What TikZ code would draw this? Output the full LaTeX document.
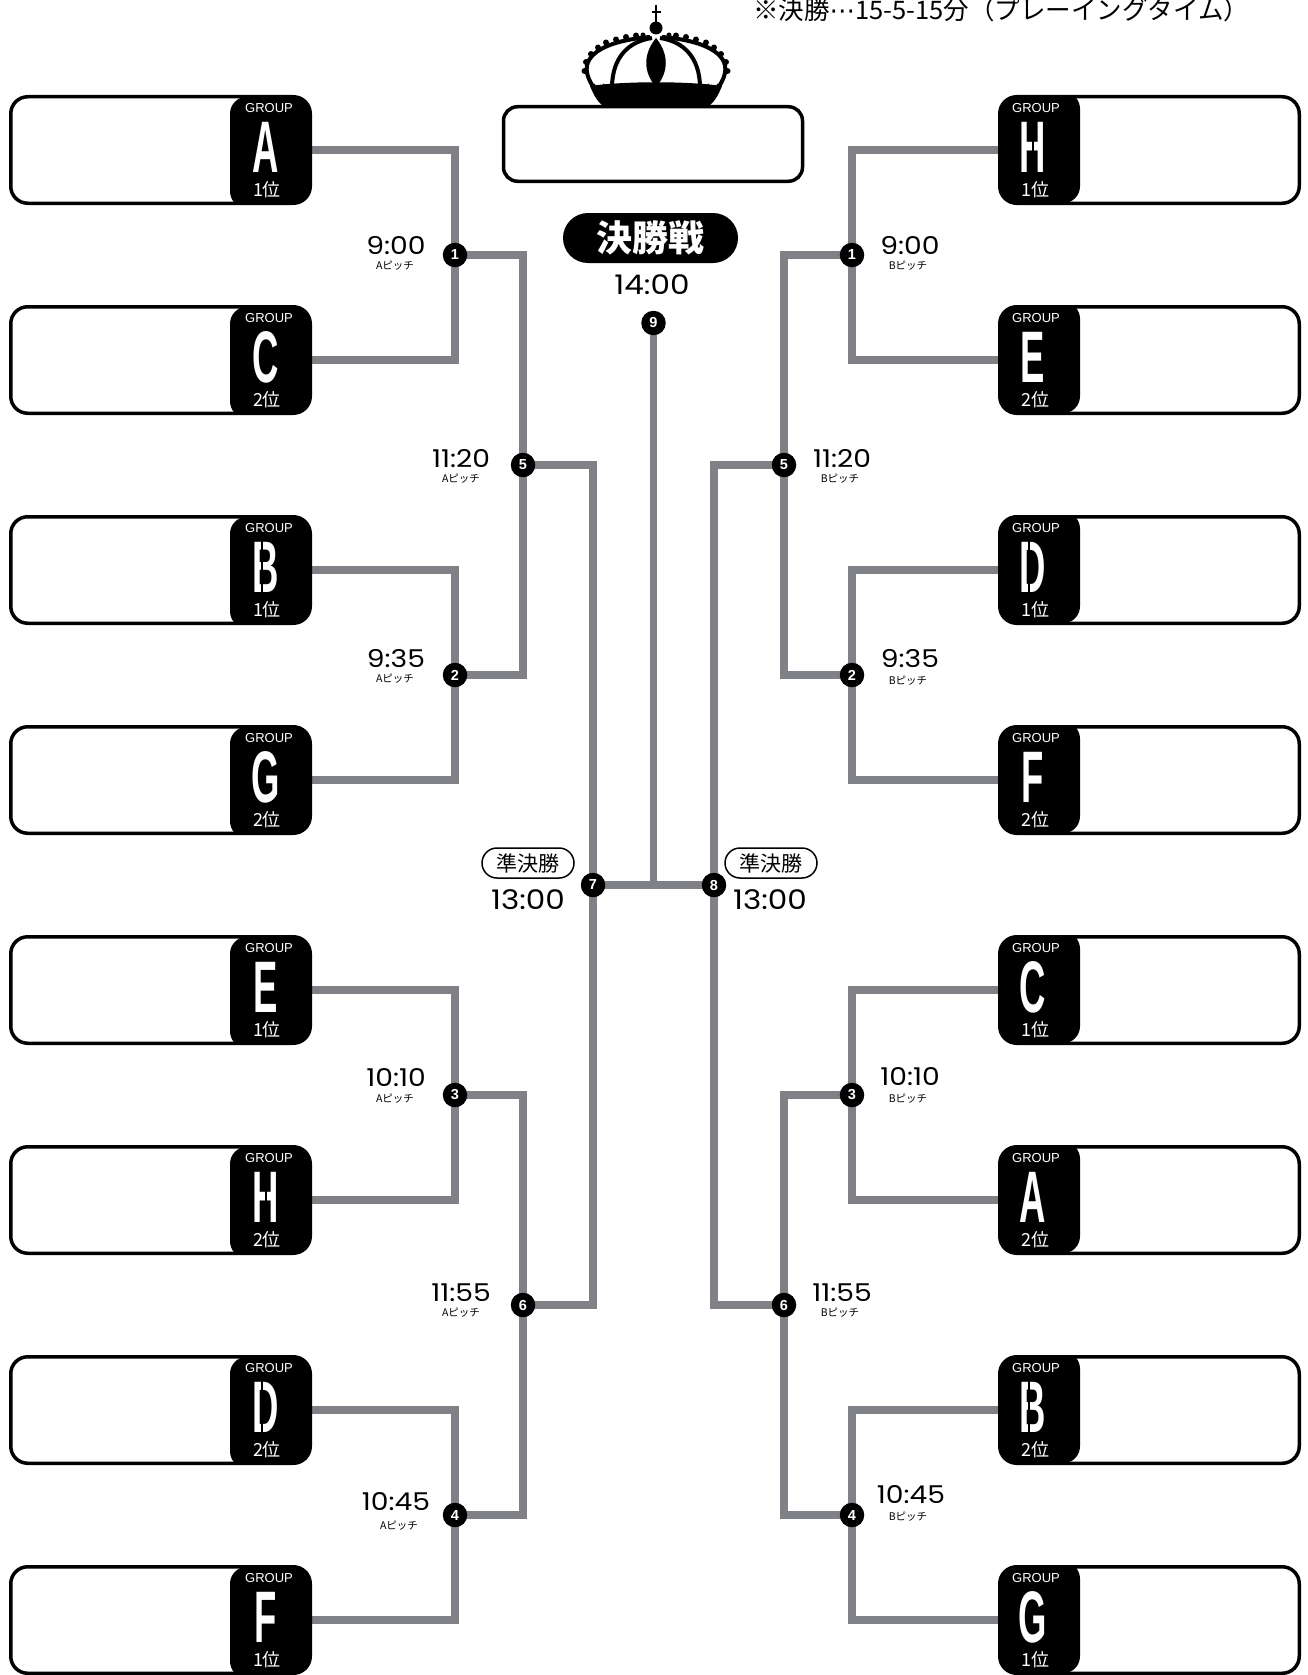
\documentclass[tikz,border=0pt]{standalone}
\usepackage{fontspec}
\usepackage{graphicx}
\setmainfont{Liberation Sans}
\newfontfamily\cjk{Noto Sans CJK JP}
\newfontfamily\dejavu{DejaVu Sans}
\newfontfamily\tmfont[Numbers=Monospaced]{Poppins}
\usetikzlibrary{calc}
\pgfdeclarelayer{background}
\pgfsetlayers{background,main}
\definecolor{lngray}{RGB}{128,129,134}
\tikzset{
  teambox/.style={draw=black, line width=3.5pt, rounded corners=17pt, minimum width=299.5pt, minimum height=106.5pt, inner sep=0pt, outer sep=0pt, fill=white},
  tabL/.style={path picture={\fill[black] ([xshift=-80.25pt]path picture bounding box.north east) rectangle ([yshift=-5pt]path picture bounding box.south east);}},
  tabR/.style={path picture={\fill[black] ([yshift=5pt]path picture bounding box.north west) rectangle ([xshift=80.25pt]path picture bounding box.south west);}},
  grp/.style={text=white, font=\fontsize{13}{13}\selectfont, inner sep=0pt},
  big/.style={text=white, font=\fontsize{73}{73}\selectfont\bfseries, inner sep=0pt},
  rank/.style={text=white, font=\cjk\fontsize{18}{18}\selectfont, inner sep=0pt},
  conn/.style={draw=lngray, line width=7.5pt},
  mnode/.style={circle, fill=black, text=white, minimum size=24.5pt, inner sep=0pt, font=\fontsize{14.5}{14.5}\selectfont\bfseries},
  tm/.style={font=\tmfont\fontsize{24.5}{25}\selectfont, inner sep=0pt},
  bigtm/.style={font=\tmfont\fontsize{27}{28}\selectfont, inner sep=0pt},
  pitch/.style={font=\cjk\fontsize{10.5}{11}\selectfont, inner sep=0pt},
  sfpill/.style={draw=black, line width=1.5pt, rounded corners=15pt, minimum width=92pt, minimum height=30pt, inner sep=0pt, font=\cjk\fontsize{21}{21}\selectfont},
  fpill/.style={fill=black, rounded corners=25pt, minimum width=175pt, minimum height=50pt, inner sep=0pt, text=white, font=\cjk\bfseries\fontsize{36}{36}\selectfont},
  finalbox/.style={draw=black, line width=3.5pt, rounded corners=14pt, minimum width=299pt, minimum height=74.5pt, inner sep=0pt, fill=white},
}
\newcommand\wtm[1]{\scalebox{1.15}[1]{#1}}
\newcommand\stcB[1]{\fill[black] ([xshift=-5pt,yshift=-30pt]#1.center) rectangle ([xshift=-3.4pt,yshift=30pt]#1.center);}
\newcommand\stcD[1]{\fill[black] ([xshift=-5pt,yshift=-30pt]#1.center) rectangle ([xshift=-3.4pt,yshift=30pt]#1.center);}
\newcommand\stcH[1]{\fill[black] ([xshift=-0.8pt,yshift=-30pt]#1.center) rectangle ([xshift=0.8pt,yshift=30pt]#1.center);}
\newcommand\stencilgap[2]{\ifcsname stc#1\endcsname\csname stc#1\endcsname{#2}\fi}
\newcommand\teamL[4]{%
  \node[teambox,tabL] (#1) at (160.5,#2) {};
  \node[grp] (#1-g) at (269,#2-42) {GROUP};
  \node[big] (#1-l) at (266,#2-3) {\scalebox{0.5}[1]{#3}};
  \stencilgap{#3}{#1-l}
  \node[rank] (#1-r) at (267,#2+40) {#4位};
}
\newcommand\teamR[4]{%
  \node[teambox,tabR] (#1) at (1149.5,#2) {};
  \node[grp] (#1-g) at (1036,#2-42) {GROUP};
  \node[big] (#1-l) at (1033,#2-3) {\scalebox{0.5}[1]{#3}};
  \stencilgap{#3}{#1-l}
  \node[rank] (#1-r) at (1035,#2+40) {#4位};
}
\begin{document}
\begin{tikzpicture}[x=1pt,y=-1pt]
\useasboundingbox (0,0) rectangle (1308,1675);
\begin{pgfonlayer}{background}
  \fill[white] (0,0) rectangle (1308,1675);
\end{pgfonlayer}

% note
\node[anchor=base west, inner sep=0pt, font=\cjk\fontsize{25.5}{26}\selectfont] (note) at (753,19.5) {※決勝{\dejavu ⋯}15-5-15分（プレーイングタイム）};

% team boxes left
\teamL{LA}{150}{A}{1}
\teamL{LC}{360}{C}{2}
\teamL{LB}{570}{B}{1}
\teamL{LG}{780}{G}{2}
\teamL{LE}{990}{E}{1}
\teamL{LH}{1200}{H}{2}
\teamL{LD}{1410}{D}{2}
\teamL{LF}{1620}{F}{1}
% team boxes right
\teamR{RH}{150}{H}{1}
\teamR{RE}{360}{E}{2}
\teamR{RD}{570}{D}{1}
\teamR{RF}{780}{F}{2}
\teamR{RC}{990}{C}{1}
\teamR{RA}{1200}{A}{2}
\teamR{RB}{1410}{B}{2}
\teamR{RG}{1620}{G}{1}

% match nodes
\node[mnode] (ma1) at (455,255) {1};
\node[mnode] (ma2) at (455,675) {2};
\node[mnode] (ma3) at (455,1095) {3};
\node[mnode] (ma4) at (455,1515) {4};
\node[mnode] (ma5) at (523,465) {5};
\node[mnode] (ma6) at (523,1305) {6};
\node[mnode] (m7) at (593,885) {7};
\node[mnode] (mb1) at (852,255) {1};
\node[mnode] (mb2) at (852,675) {2};
\node[mnode] (mb3) at (852,1095) {3};
\node[mnode] (mb4) at (852,1515) {4};
\node[mnode] (mb5) at (784,465) {5};
\node[mnode] (mb6) at (784,1305) {6};
\node[mnode] (m8) at (714,885) {8};
\node[mnode] (m9) at (653.5,323) {9};

% connectors
\begin{pgfonlayer}{background}
  \draw[conn] (LA.east) -| (ma1.center) |- (LC.east);
  \draw[conn] (LB.east) -| (ma2.center) |- (LG.east);
  \draw[conn] (LE.east) -| (ma3.center) |- (LH.east);
  \draw[conn] (LD.east) -| (ma4.center) |- (LF.east);
  \draw[conn] (ma1.center) -| (ma5.center) |- (ma2.center);
  \draw[conn] (ma3.center) -| (ma6.center) |- (ma4.center);
  \draw[conn] (ma5.center) -| (m7.center) |- (ma6.center);
  \draw[conn] (RH.west) -| (mb1.center) |- (RE.west);
  \draw[conn] (RD.west) -| (mb2.center) |- (RF.west);
  \draw[conn] (RC.west) -| (mb3.center) |- (RA.west);
  \draw[conn] (RB.west) -| (mb4.center) |- (RG.west);
  \draw[conn] (mb1.center) -| (mb5.center) |- (mb2.center);
  \draw[conn] (mb3.center) -| (mb6.center) |- (mb4.center);
  \draw[conn] (mb5.center) -| (m8.center) |- (mb6.center);
  \draw[conn] (m7.center) -- (m8.center);
  \draw[conn] (m9.center) -- (m9.center |- m7.center);
\end{pgfonlayer}

% time labels left
\node[tm] (t1) at (396,246) {\wtm{9:00}};   \node[pitch] (p1) at (395,266) {Aピッチ};
\node[tm] (t5) at (461,459) {\wtm{11:20}};  \node[pitch] (p5) at (461,479) {Aピッチ};
\node[tm] (t2) at (396,659) {\wtm{9:35}};   \node[pitch] (p2) at (395,679) {Aピッチ};
\node[tm] (t3) at (396,1078) {\wtm{10:10}}; \node[pitch] (p3) at (395,1099) {Aピッチ};
\node[tm] (t6) at (461,1293) {\wtm{11:55}}; \node[pitch] (p6) at (461,1313) {Aピッチ};
\node[tm] (t4) at (396,1502) {\wtm{10:45}}; \node[pitch] (p4) at (399,1526) {Aピッチ};
% time labels right
\node[tm] (u1) at (910,246) {\wtm{9:00}};   \node[pitch] (q1) at (908,266) {Bピッチ};
\node[tm] (u5) at (842,459) {\wtm{11:20}};  \node[pitch] (q5) at (840,479) {Bピッチ};
\node[tm] (u2) at (910,659) {\wtm{9:35}};   \node[pitch] (q2) at (908,681) {Bピッチ};
\node[tm] (u3) at (910,1077) {\wtm{10:10}}; \node[pitch] (q3) at (908,1099) {Bピッチ};
\node[tm] (u6) at (842,1293) {\wtm{11:55}}; \node[pitch] (q6) at (840,1313) {Bピッチ};
\node[tm] (u4) at (911,1495) {\wtm{10:45}}; \node[pitch] (q4) at (908,1517) {Bピッチ};

% semifinals
\node[sfpill] (sfl) at (528,863) {準決勝};
\node[bigtm] (sflt) at (528,900) {\wtm{13:00}};
\node[sfpill] (sfr) at (771,863) {準決勝};
\node[bigtm] (sfrt) at (770,900) {\wtm{13:00}};

% final
\node[finalbox] (final) at (653,144) {};
\node[fpill] (fl) at (650.5,238) {決勝戦};
\node[bigtm] (ft) at (652,285) {\wtm{14:00}};

% crown
\begin{scope}[shift={(656,0)}]
  \draw[line width=2pt] (0,5) -- (0,22);
  \draw[line width=2pt] (-4.5,12) -- (4.5,12);
  \fill (0,28) circle[radius=6.5];
  \foreach \s in {-1,1}{
    \begin{scope}[xscale=\s]
      \fill (-13,35) circle[radius=2.5];
      \draw[line width=4pt] (-6,37) .. controls (-30,39) and (-60,45) .. (-68,62) .. controls (-72,72) and (-66,82) .. (-62,88);
      \draw[line width=4pt] (-4,38) .. controls (-25,41) and (-44,55) .. (-44,88);
      \foreach \p in {(-20,35.5),(-30,37),(-40,39.5),(-50,42.5),(-58,47.5),(-65,54),(-70,62),(-71.5,71)} \fill \p circle[radius=3];
      \foreach \xx in {-57,-37,-26,-15} \draw[line width=1.8pt] (\xx-5,84) arc[start angle=180,end angle=0,radius=5];
    \end{scope}}
  \fill (0,38) .. controls (13,54) and (13,72) .. (0,87) .. controls (-13,72) and (-13,54) .. (0,38);
  \fill (-66,86) .. controls (-30,81) and (30,81) .. (66,86) .. controls (62,96) and (58,102) .. (54,105) -- (-54,105) .. controls (-58,102) and (-62,96) .. (-66,86);
\end{scope}
\end{tikzpicture}
\end{document}
